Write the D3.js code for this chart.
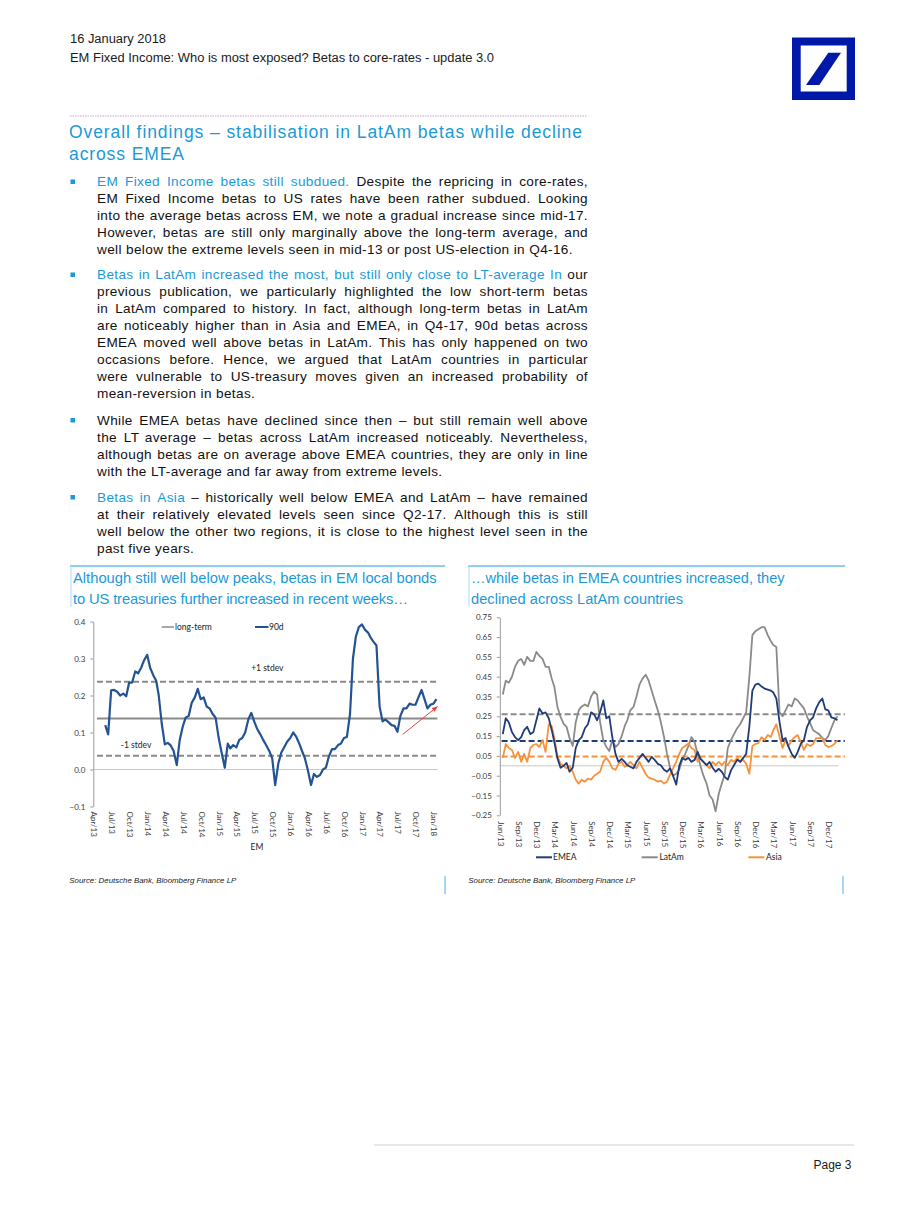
<!DOCTYPE html>
<html><head><meta charset="utf-8">
<script src="https://cdn.jsdelivr.net/npm/d3@7"></script>
<style>html,body{margin:0;padding:0;background:#fff;}svg{display:block;}</style>
</head><body>
<svg id="page" width="920" height="1227"></svg>
<script>
// ---------------- DATA ----------------
// Chart 1: EM average 90d beta, semi-monthly observations (1st & 16th) Jun-2013 .. Jan-2018
const em90d = [0.12,0.095,0.214,0.215,0.21,0.20,0.205,0.198,0.235,0.235,
0.265,0.26,0.275,0.295,0.31,0.275,0.255,0.24,0.20,0.125,
0.068,0.072,0.065,0.05,0.012,0.08,0.115,0.14,0.145,0.18,
0.195,0.218,0.19,0.195,0.17,0.165,0.15,0.14,0.085,0.045,
0.005,0.07,0.057,0.066,0.06,0.08,0.085,0.10,0.135,0.153,
0.13,0.11,0.095,0.08,0.065,0.05,0.03,-0.042,0.016,0.045,
0.06,0.075,0.085,0.10,0.088,0.07,0.05,0.03,-0.005,-0.042,
-0.012,-0.02,-0.015,0.0,0.005,0.035,0.055,0.055,0.066,0.07,
0.085,0.088,0.15,0.30,0.36,0.385,0.392,0.378,0.37,0.355,
0.345,0.335,0.17,0.13,0.135,0.128,0.12,0.118,0.102,0.145,
0.165,0.165,0.178,0.175,0.175,0.195,0.215,0.19,0.165,0.175,
0.178,0.19];
const emLongTerm = 0.138, emPlus1 = 0.237, emMinus1 = 0.037;
const emRefSpan = ["2013-04-20", "2018-01-21"];
const emArrow = [["2017-07-28", 0.095], ["2018-01-21", 0.17]];
const emTickLabels = ["Apr/13","Jul/13","Oct/13","Jan/14","Apr/14","Jul/14","Oct/14","Jan/15","Apr/15","Jul/15","Oct/15","Jan/16","Apr/16","Jul/16","Oct/16","Jan/17","Apr/17","Jul/17","Oct/17","Jan/18"];
const emYTicks = [-0.1, 0.0, 0.1, 0.2, 0.3, 0.4];

// Chart 2: regional 90d betas, semi-monthly (16th & 1st) Jun-16-2013 .. Jan-16-2018
const emea = [0.16,0.24,0.22,0.17,0.145,0.13,0.145,0.18,0.197,0.16,
0.17,0.23,0.29,0.264,0.27,0.24,0.18,0.12,0.04,-0.01,
0.0,0.015,-0.03,-0.01,0.09,0.13,0.145,0.19,0.21,0.27,
0.26,0.23,0.27,0.33,0.24,0.25,0.145,0.06,0.02,0.035,
0.02,0.003,-0.005,-0.013,0.02,0.04,0.06,0.04,0.02,0.045,
0.03,0.01,0.003,-0.02,-0.03,-0.013,-0.05,-0.095,0.0,0.04,
0.03,0.04,0.02,0.03,0.07,0.035,0.02,0.003,0.02,-0.01,
-0.03,-0.015,-0.03,-0.056,-0.07,-0.023,0.003,0.03,0.02,0.04,
0.06,0.20,0.38,0.41,0.415,0.40,0.39,0.385,0.38,0.37,
0.34,0.22,0.13,0.14,0.095,0.06,0.04,0.07,0.11,0.13,
0.195,0.23,0.245,0.29,0.32,0.34,0.285,0.28,0.245,0.24,
0.23];
const latam = [0.36,0.43,0.42,0.45,0.50,0.53,0.54,0.51,0.55,0.53,
0.53,0.575,0.555,0.54,0.50,0.50,0.44,0.40,0.30,0.247,
0.213,0.197,0.14,0.10,0.22,0.28,0.30,0.31,0.30,0.35,
0.375,0.36,0.22,0.13,0.095,0.075,0.13,0.095,0.11,0.15,
0.20,0.23,0.28,0.297,0.35,0.41,0.44,0.46,0.43,0.38,
0.33,0.28,0.22,0.145,0.06,-0.01,-0.05,-0.04,-0.02,0.03,
0.06,0.10,0.145,0.12,0.06,0.0,-0.05,-0.09,-0.15,-0.17,
-0.23,-0.14,-0.09,-0.04,0.09,0.13,0.16,0.19,0.21,0.24,
0.27,0.45,0.66,0.68,0.69,0.70,0.70,0.66,0.63,0.61,
0.60,0.27,0.25,0.28,0.31,0.30,0.34,0.33,0.31,0.29,
0.25,0.215,0.18,0.17,0.16,0.14,0.13,0.15,0.19,0.23,
0.25];
const asia = [0.04,0.11,0.09,0.08,0.04,0.07,0.02,0.06,0.02,0.09,
0.105,0.11,0.095,0.13,0.07,0.21,0.20,0.14,0.05,0.01,
0.0,-0.013,0.0,-0.03,-0.07,-0.09,-0.07,-0.08,-0.065,-0.07,
-0.05,-0.04,-0.03,0.02,0.04,0.02,-0.013,-0.02,0.01,0.02,
-0.005,0.003,0.02,0.003,-0.013,0.02,-0.01,-0.04,-0.06,-0.065,
-0.07,-0.08,-0.075,-0.09,-0.08,-0.045,-0.013,0.02,0.06,0.09,
0.10,0.113,0.09,0.08,0.02,0.04,0.02,0.003,-0.013,0.02,
0.003,0.02,0.003,0.02,0.003,0.03,0.02,0.04,0.02,0.03,
0.01,-0.04,0.10,0.11,0.115,0.145,0.13,0.155,0.145,0.18,
0.21,0.145,0.09,0.13,0.10,0.13,0.145,0.155,0.12,0.08,
0.11,0.10,0.11,0.14,0.14,0.14,0.105,0.095,0.10,0.11,
0.13];
const regionAvg = {EMEA: 0.125, LatAm: 0.26, Asia: 0.047};
const regionRefSpan = ["2013-06-10", "2018-02-22"];
const regTickLabels = ["Jun/13","Sep/13","Dec/13","Mar/14","Jun/14","Sep/14","Dec/14","Mar/15","Jun/15","Sep/15","Dec/15","Mar/16","Jun/16","Sep/16","Dec/16","Mar/17","Jun/17","Sep/17","Dec/17"];
const regYTicks = [-0.25,-0.15,-0.05,0.05,0.15,0.25,0.35,0.45,0.55,0.65,0.75];

// ---------------- TEXT ----------------
const P1 = ["EM Fixed Income betas still subdued. Despite the repricing in core-rates,",
"EM Fixed Income betas to US rates have been rather subdued. Looking",
"into the average betas across EM, we note a gradual increase since mid-17.",
"However, betas are still only marginally above the long-term average, and",
"well below the extreme levels seen in mid-13 or post US-election in Q4-16."];
const P2 = ["Betas in LatAm increased the most, but still only close to LT-average In our",
"previous publication, we particularly highlighted the low short-term betas",
"in LatAm compared to history. In fact, although long-term betas in LatAm",
"are noticeably higher than in Asia and EMEA, in Q4-17, 90d betas across",
"EMEA moved well above betas in LatAm. This has only happened on two",
"occasions before. Hence, we argued that LatAm countries in particular",
"were vulnerable to US-treasury moves given an increased probability of",
"mean-reversion in betas."];
const P3 = ["While EMEA betas have declined since then \u2013 but still remain well above",
"the LT average \u2013 betas across LatAm increased noticeably. Nevertheless,",
"although betas are on average above EMEA countries, they are only in line",
"with the LT-average and far away from extreme levels."];
const P4 = ["Betas in Asia \u2013 historically well below EMEA and LatAm \u2013 have remained",
"at their relatively elevated levels seen since Q2-17. Although this is still",
"well below the other two regions, it is close to the highest level seen in the",
"past five years."];

// ---------------- RENDER ----------------
const FT = "'Liberation Sans', Arial, sans-serif";
const FC = "Lato, 'Liberation Sans', sans-serif";
const BLUE = "#1a9ad6";
const svg = d3.select("#page");
const parseD = d3.utcParse("%Y-%m-%d");
const parseTick = d3.utcParse("%b/%y");

function txt(x, y, s, o = {}) {
  const t = svg.append("text").attr("x", x).attr("y", y).text(s)
    .attr("font-family", o.ff || FT).attr("font-size", o.fs || 12)
    .attr("fill", o.fill || "#1a1a1a");
  if (o.anchor) t.attr("text-anchor", o.anchor);
  if (o.italic) t.attr("font-style", "italic");
  if (o.len) t.attr("textLength", o.len).attr("lengthAdjust", o.adj || "spacingAndGlyphs");
  return t;
}
const LS = 0.35;
function para(lines, x0, y0, lh, W, nHi, fs) {
  let wi = 0;
  lines.forEach((line, li) => {
    const words = line.split(" ");
    const t = svg.append("text").attr("y", y0 + li * lh).attr("font-family", FT).attr("font-size", fs)
      .attr("letter-spacing", LS);
    const spans = words.map(w => t.append("tspan").text(w).attr("fill", (wi++ < nHi) ? BLUE : "#111"));
    const ws = spans.map(s => s.node().getComputedTextLength());
    const last = li === lines.length - 1;
    const gap = last ? fs * 0.31 : (W - d3.sum(ws)) / (words.length - 1);
    let x = x0;
    spans.forEach((s, i) => { s.attr("x", x); x += ws[i] + gap; });
  });
  svg.append("rect").attr("x", 70.5).attr("y", y0 - 6.5).attr("width", 4.5).attr("height", 4.5).attr("fill", BLUE);
}

// header
txt(70, 42.5, "16 January 2018", {fs: 12, len: 96});
txt(70, 61.5, "EM Fixed Income: Who is most exposed? Betas to core-rates - update 3.0", {fs: 12, len: 424});
svg.append("line").attr("x1", 70).attr("x2", 587).attr("y1", 116).attr("y2", 116)
  .attr("stroke", "#c9a3c9").attr("stroke-width", 1).attr("stroke-dasharray", "1.5,1");
// logo
svg.append("rect").attr("x", 792).attr("y", 37.5).attr("width", 63).attr("height", 62.5).attr("fill", "#0018a8");
svg.append("rect").attr("x", 800.7).attr("y", 45.5).attr("width", 46).attr("height", 46).attr("fill", "#fff");
svg.append("polygon").attr("points", "806,85 819.3,85 841,52.7 828.3,52.7").attr("fill", "#0018a8");

// heading
txt(69, 137.5, "Overall findings \u2013 stabilisation in LatAm betas while decline", {fs: 17.5, fill: BLUE, len: 513, adj: "spacing"});
txt(69, 159.5, "across EMEA", {fs: 17.5, fill: BLUE, len: 115, adj: "spacing"});

// paragraphs
const BFS = 13.6;
para(P1, 97, 186, 17, 491, 6, BFS);
para(P2, 97, 279, 17, 491, 13, BFS);
para(P3, 97, 424.5, 17, 491, 0, BFS);
para(P4, 97, 501.5, 17, 491, 3, BFS);

// chart title boxes
function titleBox(x0, x1, l1, l2, w1, w2) {
  svg.append("line").attr("x1", x0).attr("x2", x1).attr("y1", 566).attr("y2", 566).attr("stroke", "#8fd0ef").attr("stroke-width", 2);
  svg.append("line").attr("x1", x0 + 1).attr("x2", x0 + 1).attr("y1", 566).attr("y2", 607).attr("stroke", "#a9dbf3").attr("stroke-width", 1);
  const t1 = txt(x0 + 3, 583, l1, {fs: 14, fill: BLUE});
  const w = t1.node().getComputedTextLength();
  const fs = 14 * w1 / w;
  t1.attr("font-size", fs);
  txt(x0 + 3, 604, l2, {fs: fs, fill: BLUE, len: w2, adj: "spacing"});
}
titleBox(70, 445, "Although still well below peaks, betas in EM local bonds", "to US treasuries further increased in recent weeks\u2026", 364, 335);
titleBox(468, 845, "\u2026while betas in EMEA countries increased, they", "declined across LatAm countries", 314, 212);

// sources
txt(69.3, 883, "Source: Deutsche Bank, Bloomberg Finance LP", {fs: 8, italic: true, len: 167});
txt(468.3, 883, "Source: Deutsche Bank, Bloomberg Finance LP", {fs: 8, italic: true, len: 167});
[445, 843].forEach(x => svg.append("line").attr("x1", x).attr("x2", x).attr("y1", 876).attr("y2", 894).attr("stroke", "#4fb0e6").attr("stroke-width", 1));

// footer
svg.append("line").attr("x1", 374).attr("x2", 854).attr("y1", 1145).attr("y2", 1145)
  .attr("stroke", "#c9d3c9").attr("stroke-width", 1);
txt(851.5, 1168.5, "Page 3", {fs: 12, anchor: "end"});

// date grid (observation dates)
const months = d3.utcMonth.range(new Date(Date.UTC(2013, 5, 1)), new Date(Date.UTC(2018, 1, 1)));
const grid = months.flatMap(m => [m, d3.utcDay.offset(m, 15)]);
const grid2 = grid.slice(1);

function styleAxis(g) {
  g.selectAll("path.domain").attr("stroke", "#9a9a9a");
  g.selectAll(".tick line").attr("stroke", "#9a9a9a");
  g.selectAll(".tick text").attr("fill", "#3a3a3a").attr("font-family", FC).attr("font-size", 8);
}
function xLabels(g, ticks, x, yBase, fmt, off) {
  const ax = d3.axisBottom(x).tickValues(ticks).tickFormat(fmt).tickSize(0);
  const gg = svg.append("g").attr("transform", `translate(0,${yBase})`).call(ax);
  gg.select("path.domain").remove();
  gg.selectAll(".tick text").attr("y", 0).attr("x", off).attr("dy", "0.33em")
    .attr("transform", "rotate(90)").style("text-anchor", "start")
    .attr("fill", "#3a3a3a").attr("font-family", FC).attr("font-size", 8);
}

// ---------- Chart 1 ----------
{
  const x = d3.scaleUtc().domain([parseTick("Apr/13"), parseTick("Jan/18")]).range([93.3, 433.5]);
  const y = d3.scaleLinear().domain([-0.1, 0.4]).range([806.5, 621.5]);
  const x0 = x.range()[0], xEnd = x(parseD("2018-01-22"));
  svg.append("line").attr("x1", x0).attr("x2", xEnd).attr("y1", y(0)).attr("y2", y(0)).attr("stroke", "#c8c8c8").attr("stroke-width", 1);
  const ax = d3.axisLeft(y).tickValues(emYTicks).tickFormat(d3.format(".1f")).tickSize(3).tickSizeOuter(0).tickPadding(5);
  const g = svg.append("g").attr("transform", `translate(${x0},0)`).call(ax);
  styleAxis(g);
  xLabels(g, emTickLabels.map(parseTick), x, y(-0.1), d3.utcFormat("%b/%y"), 5);
  const [rs, re] = emRefSpan.map(parseD);
  [[emPlus1, "6,3"], [emMinus1, "6,3"], [emLongTerm, null]].forEach(([v, dash]) => {
    const l = svg.append("line").attr("x1", x(rs)).attr("x2", x(re)).attr("y1", y(v)).attr("y2", y(v))
      .attr("stroke", "#8a8a8a").attr("stroke-width", 2);
    if (dash) l.attr("stroke-dasharray", dash);
  });
  const data = grid.map((d, i) => ({d, v: em90d[i]}));
  svg.append("path").datum(data).attr("fill", "none").attr("stroke", "#245393").attr("stroke-width", 2.2)
    .attr("stroke-linejoin", "round")
    .attr("d", d3.line().x(p => x(p.d)).y(p => y(p.v)));
  txt(x(parseD("2015-09-06")), y(0.266), "+1 stdev", {ff: FC, fs: 8.5, anchor: "middle", fill: "#222"});
  txt(x(parseD("2013-11-05")), y(0.058), "-1 stdev", {ff: FC, fs: 8.5, anchor: "middle", fill: "#222"});
  svg.append("defs").append("marker").attr("id", "arr").attr("viewBox", "0 0 10 10").attr("refX", 9).attr("refY", 5)
    .attr("markerWidth", 6).attr("markerHeight", 6).attr("orient", "auto")
    .append("path").attr("d", "M0,1 L10,5 L0,9 z").attr("fill", "#e8403a");
  const a0 = emArrow[0], a1 = emArrow[1];
  svg.append("line").attr("x1", x(parseD(a0[0]))).attr("y1", y(a0[1])).attr("x2", x(parseD(a1[0]))).attr("y2", y(a1[1]))
    .attr("stroke", "#e8403a").attr("stroke-width", 1).attr("marker-end", "url(#arr)");
  svg.append("line").attr("x1", 161.7).attr("x2", 174).attr("y1", 627).attr("y2", 627).attr("stroke", "#a8a8a8").attr("stroke-width", 2);
  txt(175, 629.8, "long-term", {ff: FC, fs: 8.5, fill: "#222"});
  svg.append("line").attr("x1", 255).attr("x2", 268.5).attr("y1", 627).attr("y2", 627).attr("stroke", "#245393").attr("stroke-width", 2);
  txt(269, 629.8, "90d", {ff: FC, fs: 8.5, fill: "#222"});
  txt(257, 849.5, "EM", {ff: FC, fs: 8.5, anchor: "middle", fill: "#222"});
}

// ---------- Chart 2 ----------
{
  const x = d3.scaleUtc().domain([parseTick("Jun/13"), parseTick("Dec/17")]).range([499.8, 828.3]);
  const y = d3.scaleLinear().domain([-0.25, 0.75]).range([815.3, 617.3]);
  const x0 = x.range()[0];
  svg.append("line").attr("x1", x0).attr("x2", x(parseD("2018-01-20"))).attr("y1", y(0)).attr("y2", y(0)).attr("stroke", "#c8c8c8").attr("stroke-width", 1);
  const ax = d3.axisLeft(y).tickValues(regYTicks).tickFormat(d3.format(".2f")).tickSize(3).tickSizeOuter(0).tickPadding(5);
  const g = svg.append("g").attr("transform", `translate(${x0},0)`).call(ax);
  styleAxis(g);
  xLabels(g, regTickLabels.map(parseTick), x, y(-0.25), d3.utcFormat("%b/%y"), 6);
  const series = [
    {name: "LatAm", vals: latam, color: "#8a8a8a"},
    {name: "Asia", vals: asia, color: "#f7923a"},
    {name: "EMEA", vals: emea, color: "#1f3c78"}
  ];
  const [rs, re] = regionRefSpan.map(parseD);
  series.forEach(s => {
    svg.append("line").attr("x1", x(rs)).attr("x2", x(re)).attr("y1", y(regionAvg[s.name])).attr("y2", y(regionAvg[s.name]))
      .attr("stroke", s.color).attr("stroke-width", 2).attr("stroke-dasharray", "6,3");
  });
  const line = d3.line().x(p => x(p.d)).y(p => y(p.v));
  series.forEach(s => {
    svg.append("path").datum(grid2.map((d, i) => ({d, v: s.vals[i]}))).attr("fill", "none")
      .attr("stroke", s.color).attr("stroke-width", 1.8).attr("stroke-linejoin", "round").attr("d", line);
  });
  const leg = [["EMEA", "#1f3c78", 536, 553], ["LatAm", "#8a8a8a", 641.7, 659.5], ["Asia", "#f7923a", 748.3, 766]];
  leg.forEach(([n, c, lx, tx]) => {
    svg.append("line").attr("x1", lx).attr("x2", lx + 16).attr("y1", 857.3).attr("y2", 857.3).attr("stroke", c).attr("stroke-width", 2);
    txt(tx, 860, n, {ff: FC, fs: 8.5, fill: "#222"});
  });
}
</script>
</body></html>
